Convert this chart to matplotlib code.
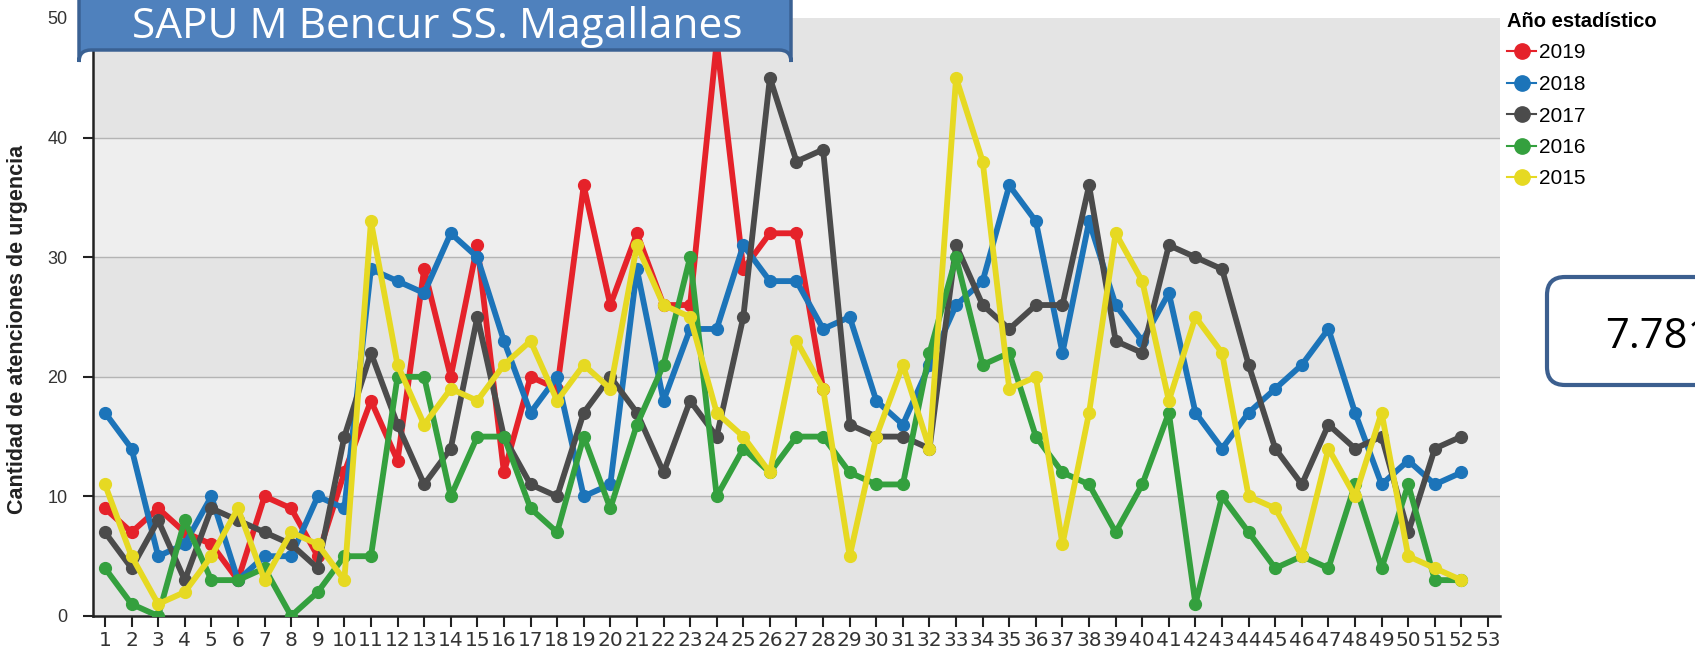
import matplotlib
matplotlib.use("Agg")
import matplotlib.pyplot as plt
from matplotlib.patches import FancyBboxPatch

# semanas epidemiologicas
semanas = list(range(1, 53))
ticks_x = list(range(1, 54))

# atenciones por semana y año
s2019 = [9, 7, 9, 7, 6, 3, 10, 9, 5, 12, 18, 13, 29, 20, 31, 12, 20, 19, 36, 26,
         32, 26, 26, 48, 29, 32, 32, 19]
s2018 = [17, 14, 5, 6, 10, 3, 5, 5, 10, 9, 29, 28, 27, 32, 30, 23, 17, 20, 10, 11,
         29, 18, 24, 24, 31, 28, 28, 24, 25, 18, 16, 21, 26, 28, 36, 33, 22, 33, 26, 23,
         27, 17, 14, 17, 19, 21, 24, 17, 11, 13, 11, 12]
s2017 = [7, 4, 8, 3, 9, 8, 7, 6, 4, 15, 22, 16, 11, 14, 25, 15, 11, 10, 17, 20,
         17, 12, 18, 15, 25, 45, 38, 39, 16, 15, 15, 14, 31, 26, 24, 26, 26, 36, 23, 22,
         31, 30, 29, 21, 14, 11, 16, 14, 15, 7, 14, 15]
s2016 = [4, 1, 0, 8, 3, 3, 4, 0, 2, 5, 5, 20, 20, 10, 15, 15, 9, 7, 15, 9,
         16, 21, 30, 10, 14, 12, 15, 15, 12, 11, 11, 22, 30, 21, 22, 15, 12, 11, 7, 11,
         17, 1, 10, 7, 4, 5, 4, 11, 4, 11, 3, 3]
s2015 = [11, 5, 1, 2, 5, 9, 3, 7, 6, 3, 33, 21, 16, 19, 18, 21, 23, 18, 21, 19,
         31, 26, 25, 17, 15, 12, 23, 19, 5, 15, 21, 14, 45, 38, 19, 20, 6, 17, 32, 28,
         18, 25, 22, 10, 9, 5, 14, 10, 17, 5, 4, 3]

series = [("2019", s2019, "#e5222a"),
          ("2018", s2018, "#1c74b9"),
          ("2017", s2017, "#4b4b4b"),
          ("2016", s2016, "#34a03e"),
          ("2015", s2015, "#e6d922")]

titulo = "SAPU M Bencur SS. Magallanes"
valor_caja = "7.781"

W, H = 1695, 656
fig = plt.figure(figsize=(W / 100, H / 100), dpi=100)
fig.patch.set_facecolor("white")

ax = fig.add_axes([93 / W, 1 - 616 / H, (1500 - 93) / W, (616 - 18) / H])
ax.set_xlim(0.55, 53.45)
ax.set_ylim(0, 50)

# bandas de fondo
for i in range(5):
    col = "#e4e4e4" if i % 2 == 0 else "#eeeeee"
    ax.axhspan(i * 10, (i + 1) * 10, color=col, zorder=0, lw=0)
for g in [10, 20, 30, 40]:
    ax.axhline(g, color="#b4b4b4", lw=1.0, zorder=1)

for nombre, vals, col in series:
    ax.plot(semanas[:len(vals)], vals, color=col, lw=4.2, marker="o",
            markersize=8.5, label=nombre, zorder=3, solid_joinstyle="round")

ax.set_xticks(ticks_x)
ax.set_xticklabels([str(t) for t in ticks_x],
                   fontfamily=["Liberation Sans Narrow", "DejaVu Sans"], fontsize=14.5)
ax.set_yticks([0, 10, 20, 30, 40, 50])
ax.set_yticklabels(["0", "10", "20", "30", "40", "50"],
                   fontfamily="Liberation Sans", fontsize=13)
ax.tick_params(axis="x", length=8, width=1.5, pad=3, colors="#222222",
               labelcolor="#333333")
ax.tick_params(axis="y", length=7.5, width=1.5, pad=11, colors="#222222",
               labelcolor="#333333")

for s in ["top", "right"]:
    ax.spines[s].set_visible(False)
for s in ["left", "bottom"]:
    ax.spines[s].set_color("#222222")
    ax.spines[s].set_linewidth(1.8)

ax.set_ylabel("Cantidad de atenciones de urgencia", fontfamily="Liberation Sans",
              fontweight="bold", fontsize=15.5, color="#222222")
ax.yaxis.set_label_coords(-0.046, 0.479)

leg = fig.legend(loc="upper left", bbox_to_anchor=(1507 / W, 1 - 12 / H),
                 frameon=False, title="Año estadístico",
                 prop={"family": "Liberation Sans", "size": 15},
                 title_fontproperties={"family": "Liberation Sans",
                                       "weight": "bold", "size": 14.5},
                 alignment="left", handlelength=1.4, handletextpad=0.15,
                 labelspacing=0.6, borderpad=0, borderaxespad=0)
for h in leg.legend_handles:
    h.set_linewidth(1.5)
    h.set_markersize(11)

# caja del titulo
caja = FancyBboxPatch((79, H + 15), 712, -(15 + 50),
                      boxstyle="round,pad=0,rounding_size=12",
                      transform=None, facecolor="#4f81bd", edgecolor="#3a6193",
                      lw=2.5, zorder=10)
fig.patches.append(caja)
fig.text(437 / W, 1 - 38 / H, titulo, ha="center", va="baseline",
         fontfamily="Open Sans", fontsize=30.5, color="white", zorder=11)

# caja del valor
caja2 = FancyBboxPatch((1547, H - 385), 250, 108,
                       boxstyle="round,pad=0,rounding_size=18",
                       transform=None, facecolor="white", edgecolor="#3c5f8f",
                       lw=3, zorder=10)
fig.patches.append(caja2)
fig.text(1605 / W, 1 - 348 / H, valor_caja, ha="left", va="baseline",
         fontfamily="Open Sans", fontsize=30, color="black", zorder=11)

fig.savefig("out.png", dpi=100)
